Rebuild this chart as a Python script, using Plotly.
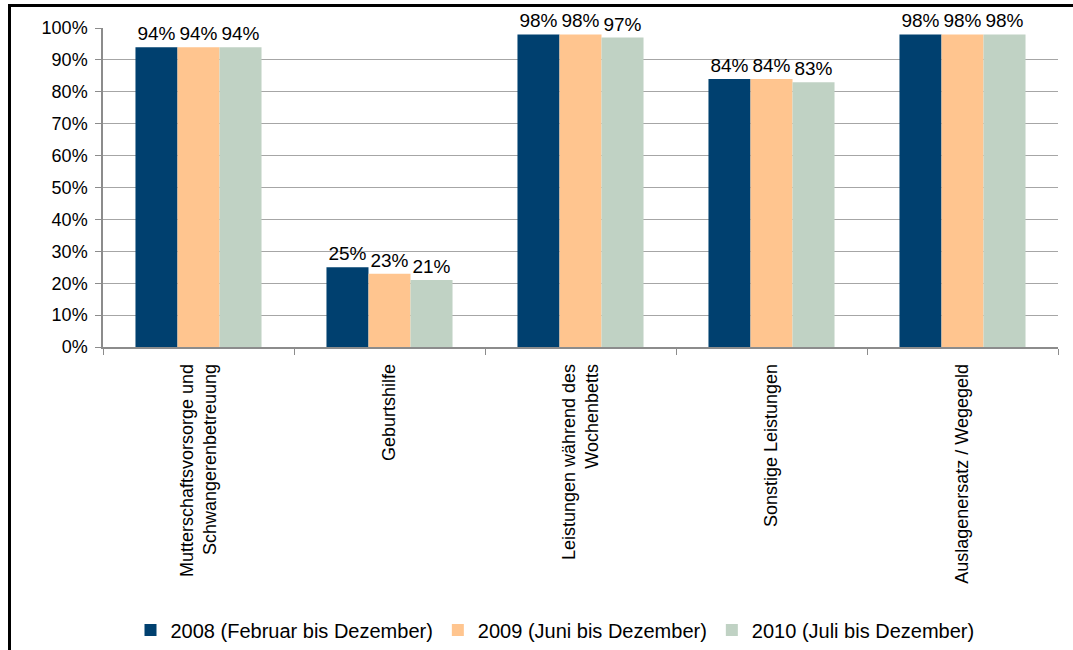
import plotly.graph_objects as go

# Leistungsarten (x-axis categories)
categories = [
    "Mutterschaftsvorsorge und<br>Schwangerenbetreuung",
    "Geburtshilfe",
    "Leistungen während des<br>Wochenbetts",
    "Sonstige Leistungen",
    "Auslagenersatz / Wegegeld",
]

# Anteile in Prozent je Erhebungszeitraum
series_names = [
    "2008 (Februar bis Dezember)",
    "2009 (Juni bis Dezember)",
    "2010 (Juli bis Dezember)",
]
values_2008 = [94, 25, 98, 84, 98]
values_2009 = [94, 23, 98, 84, 98]
values_2010 = [94, 21, 97, 83, 98]

y_ticks = [0, 10, 20, 30, 40, 50, 60, 70, 80, 90, 100]

colors = ["#00406F", "#FFC58F", "#C0D2C4"]
font_family = "Liberation Sans, Arial, sans-serif"

W, H = 1073, 650
M_L, M_R, M_T, M_B = 103, 15, 28, 303
plot_w = W - M_L - M_R
plot_h = H - M_T - M_B

fig = go.Figure()
for name, vals, col in zip(series_names, [values_2008, values_2009, values_2010], colors):
    fig.add_trace(
        go.Bar(
            x=categories,
            y=vals,
            name=name,
            marker=dict(color=col, line=dict(width=0)),
            text=[f"{v}%" for v in vals],
            textposition="outside",
            textfont=dict(family=font_family, size=19, color="black"),
            constraintext="none",
            cliponaxis=False,
        )
    )

# frame lines along the top and left edge of the page
def px_to_paper_x(px):
    return (px - M_L) / plot_w

def px_to_paper_y(py):
    return (M_T + plot_h - py) / plot_h

fig.add_shape(type="line", xref="paper", yref="paper",
              x0=px_to_paper_x(8), x1=px_to_paper_x(1073),
              y0=px_to_paper_y(5.5), y1=px_to_paper_y(5.5),
              line=dict(color="black", width=3))
fig.add_shape(type="line", xref="paper", yref="paper",
              x0=px_to_paper_x(9.5), x1=px_to_paper_x(9.5),
              y0=px_to_paper_y(5.5), y1=px_to_paper_y(650),
              line=dict(color="black", width=3))

fig.update_layout(
    width=W,
    height=H,
    margin=dict(l=M_L, r=M_R, t=M_T, b=M_B, autoexpand=False),
    paper_bgcolor="white",
    plot_bgcolor="white",
    barmode="group",
    bargap=0.34,
    bargroupgap=0,
    font=dict(family=font_family, size=16, color="black"),
    showlegend=True,
    legend=dict(
        orientation="h",
        x=px_to_paper_x(555),
        xanchor="center",
        y=px_to_paper_y(630),
        yanchor="middle",
        font=dict(family=font_family, size=20, color="black"),
        itemwidth=30,
        bgcolor="rgba(0,0,0,0)",
        traceorder="normal",
    ),
    xaxis=dict(
        type="category",
        tickangle=-90,
        tickson="boundaries",
        ticks="outside",
        ticklen=6,
        tickcolor="#8c8c8c",
        showline=True,
        linecolor="#8c8c8c",
        linewidth=1.5,
        showgrid=False,
        ticklabelstandoff=8,
        tickfont=dict(family=font_family, size=18, color="black"),
    ),
    yaxis=dict(
        range=[0, 100],
        tickvals=y_ticks,
        ticktext=[f"{t}%" for t in y_ticks],
        ticks="outside",
        ticklen=6,
        tickcolor="#8c8c8c",
        showline=True,
        linecolor="#8c8c8c",
        linewidth=1.5,
        showgrid=True,
        gridcolor="#a6a6a6",
        gridwidth=1,
        zeroline=False,
        ticklabelstandoff=4,
        tickfont=dict(family=font_family, size=18, color="black"),
    ),
)

fig.write_html("out.html")
